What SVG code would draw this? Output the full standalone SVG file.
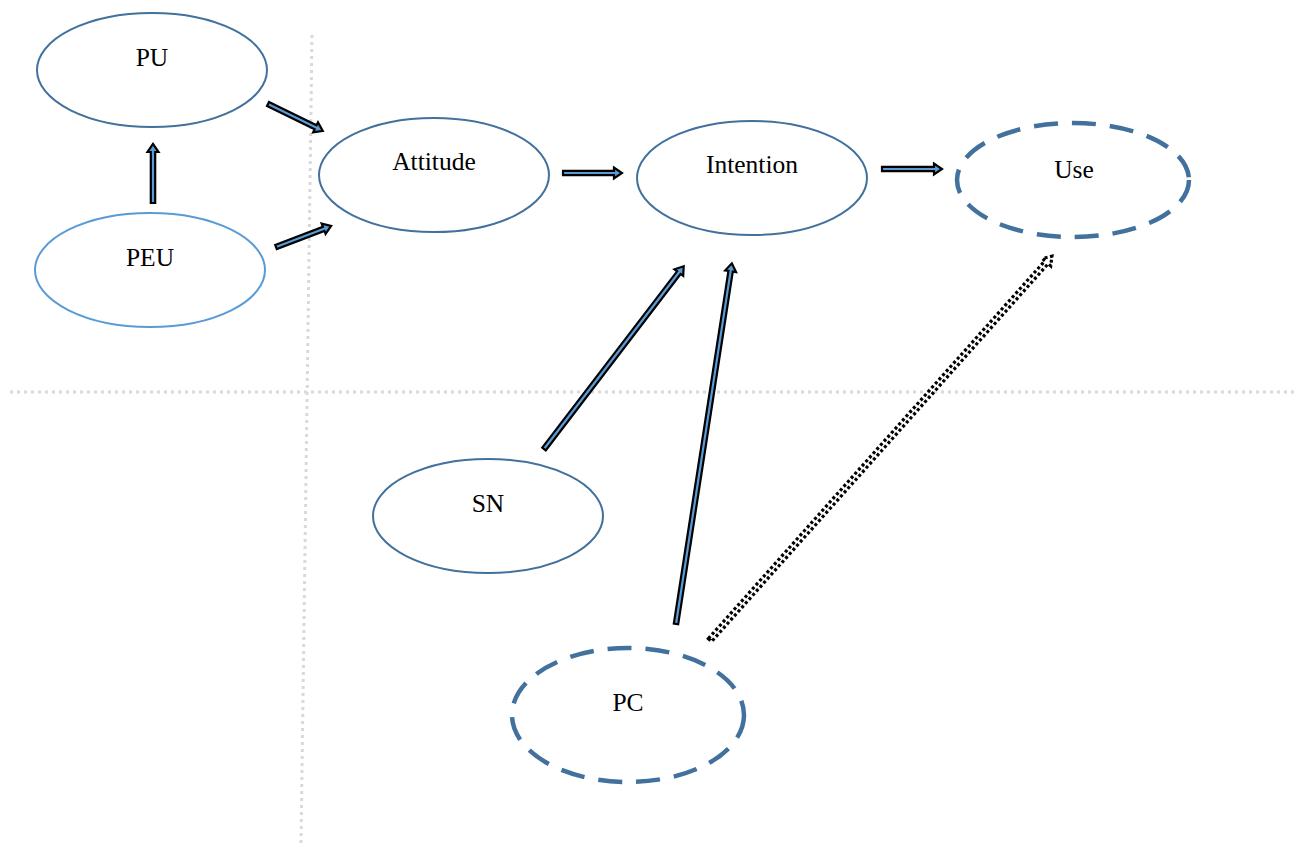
<svg xmlns="http://www.w3.org/2000/svg" width="1294" height="844" viewBox="0 0 1294 844">
<style>
.grid{stroke:#d9d9d9;stroke-width:3;stroke-dasharray:3 4;fill:none}
.node{fill:#fff;stroke:#41719c;stroke-width:2}
.light{stroke:#5b9bd5}
.dash{stroke:#41719c;stroke-width:4.5;stroke-dasharray:24 14}
.lbl{font-family:"Liberation Serif","Times New Roman",serif;font-size:25.5px;fill:#000;text-anchor:middle}
.arr{fill:#5b9bd5;stroke:#000;stroke-width:2.2;stroke-linejoin:miter}
.dot{fill:#fff;stroke:#000;stroke-width:3.2;stroke-dasharray:3 2.5}
</style>
<rect width="1294" height="844" fill="#fff"/>
<g id="grid">
<line class="grid" x1="312" y1="35" x2="301" y2="844"/>
<line class="grid" x1="10" y1="392" x2="1294" y2="392"/>
</g>
<g id="PU"><ellipse class="node" cx="152" cy="70" rx="115" ry="57"/><text class="lbl" x="152" y="66">PU</text></g>
<g id="PEU"><ellipse class="node light" cx="150" cy="270" rx="115" ry="57"/><text class="lbl" x="150" y="266">PEU</text></g>
<g id="Attitude"><ellipse class="node" cx="434" cy="175" rx="115" ry="57"/><text class="lbl" x="434" y="170">Attitude</text></g>
<g id="Intention"><ellipse class="node" cx="752" cy="178" rx="115" ry="57"/><text class="lbl" x="752" y="173">Intention</text></g>
<g id="Use"><ellipse class="node dash" cx="1073" cy="180" rx="116" ry="57"/><text class="lbl" x="1074" y="178">Use</text></g>
<g id="SN"><ellipse class="node" cx="488" cy="516" rx="115" ry="57"/><text class="lbl" x="488" y="512">SN</text></g>
<g id="PC"><ellipse class="node dash" cx="628" cy="715" rx="116" ry="67"/><text class="lbl" x="628" y="711">PC</text></g>
<g id="connectors">
<path class="arr" transform="translate(268,104) rotate(26.1)" d="M0,-2.2 H53 V-5.5 L61,0 L53,5.5 V2.2 H0 Z"/>
<path class="arr" transform="translate(276,247) rotate(-20.9)" d="M0,-2.2 H51 V-5.5 L59,0 L51,5.5 V2.2 H0 Z"/>
<path class="arr" transform="translate(153,203) rotate(-90)" d="M0,-2.2 H51 V-5.5 L59,0 L51,5.5 V2.2 H0 Z"/>
<path class="arr" transform="translate(563,173)" d="M0,-2.2 H51 V-5.5 L59,0 L51,5.5 V2.2 H0 Z"/>
<path class="arr" transform="translate(882,169)" d="M0,-2.2 H52 V-5.5 L60,0 L52,5.5 V2.2 H0 Z"/>
<path class="arr" transform="translate(544,449) rotate(-52.6)" d="M0,-2.2 H222 V-5.5 L230,0 L222,5.5 V2.2 H0 Z"/>
<path class="arr" transform="translate(676,624) rotate(-81.2)" d="M0,-2.2 H357 V-5.5 L365,0 L357,5.5 V2.2 H0 Z"/>
<path class="dot" transform="translate(710,640) rotate(-48.3)" d="M0,-2.2 H506 V-5.5 L514,0 L506,5.5 V2.2 H0 Z"/>
</g>
</svg>
